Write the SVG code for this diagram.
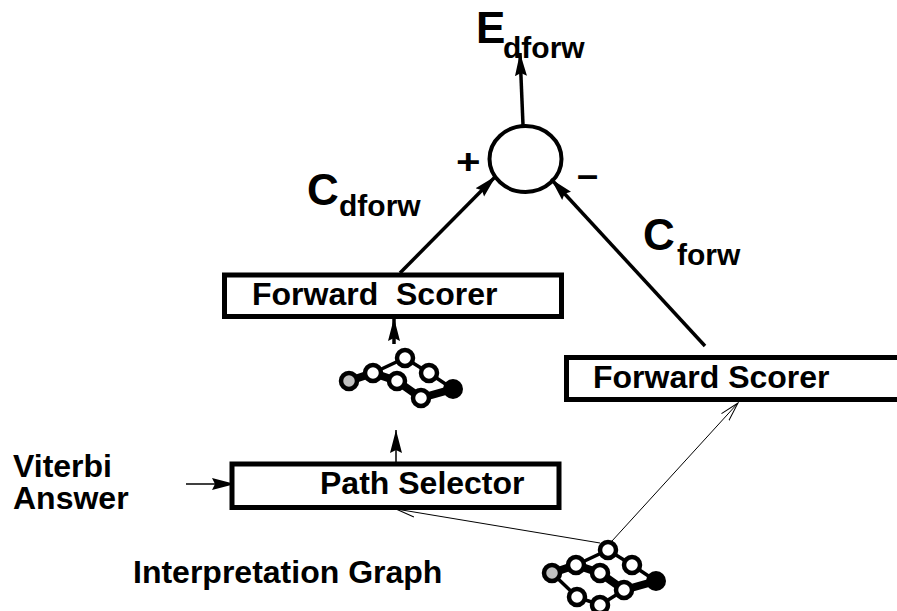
<svg xmlns="http://www.w3.org/2000/svg" width="897" height="611" viewBox="0 0 897 611">
<defs>
<marker id="ah" markerUnits="userSpaceOnUse" markerWidth="24" markerHeight="14" refX="23" refY="7" orient="auto"><path d="M0,1 L23,7 L0,13 L3,7 Z" fill="#000"/></marker>
<marker id="as" markerUnits="userSpaceOnUse" markerWidth="20" markerHeight="12" refX="19" refY="6" orient="auto"><path d="M0,1 L19,6 L0,11" fill="none" stroke="#000" stroke-width="1"/></marker>
<g id="graph">
<path class="thin" d="M24,-8 L56,-23 L80,-8 L104,8"/>
<path class="thick" d="M0,0 L24,-8 L48,0 L72,17 L104,8"/>
<circle cx="0" cy="0" r="8" fill="#c0c0c0" stroke="#000" stroke-width="4.500"/>
<circle class="n" cx="24" cy="-8" r="8"/>
<circle class="n" cx="56" cy="-23" r="8"/>
<circle class="n" cx="80" cy="-8" r="8"/>
<circle class="n" cx="48" cy="0" r="8"/>
<circle class="n" cx="72" cy="17" r="8"/>
<circle cx="104" cy="8" r="10" fill="#000"/>
</g>
</defs>
<style>
text{font-family:"Liberation Sans",Arial,sans-serif;font-weight:bold;fill:#000}
.box{fill:#fff;stroke:#000;stroke-width:5}
.n{fill:#fff;stroke:#000;stroke-width:4.500}
.thin{fill:none;stroke:#000;stroke-width:3.500}
.thick{fill:none;stroke:#000;stroke-width:8}
.c{fill:none;stroke:#000}
.l{font-size:32px}
.big{font-size:44px}
.sub{font-size:30px}
</style>
<g id="connectors">
<line class="c" stroke-width="3.500" x1="523" y1="125" x2="520" y2="53" marker-end="url(#ah)"/>
<line class="c" stroke-width="3.500" x1="400" y1="273" x2="496" y2="176" marker-end="url(#ah)"/>
<line class="c" stroke-width="3.500" x1="705" y1="346" x2="551" y2="179" marker-end="url(#ah)"/>
<line class="c" stroke-width="3.500" x1="394" y1="344" x2="394" y2="318" marker-end="url(#ah)"/>
<line class="c" stroke-width="1.500" x1="396" y1="462" x2="396" y2="430" marker-end="url(#ah)"/>
<line class="c" stroke-width="1.500" x1="186" y1="484" x2="235" y2="484" marker-end="url(#ah)"/>
<line class="c" stroke-width="1" x1="600" y1="543" x2="396" y2="509" marker-end="url(#as)"/>
<line class="c" stroke-width="1" x1="612" y1="541" x2="738" y2="403" marker-end="url(#as)"/>
</g>
<g id="sum"><ellipse cx="525.500" cy="159" rx="36" ry="33" fill="none" stroke="#000" stroke-width="4"/></g>
<g id="scorer1"><rect class="box" x="224.500" y="275" width="337" height="41.500"/><text class="l" x="252" y="305" xml:space="preserve">Forward  Scorer</text></g>
<g id="scorer2"><rect class="box" x="566.500" y="357.500" width="335" height="42"/><text class="l" x="593" y="388">Forward Scorer</text></g>
<g id="selector"><rect class="box" x="232" y="464" width="327" height="43.500"/><text class="l" x="320" y="494">Path Selector</text></g>
<g id="graph1"><use href="#graph" x="349" y="381"/></g>
<g id="graph2"><path class="thin" d="M552,573 L577,597 L600,605 L624,590"/><circle class="n" cx="577" cy="597" r="8"/><circle class="n" cx="600" cy="605" r="8"/><use href="#graph" x="552" y="573"/></g>
<g id="labels">
<text class="big" x="476" y="43">E</text><text class="sub" x="503" y="58">dforw</text>
<text class="big" x="307" y="205">C</text><text class="sub" x="339" y="216">dforw</text>
<text class="big" x="643" y="250">C</text><text class="sub" x="677" y="265">forw</text>
<text x="0" y="0" font-size="42" transform="translate(456 174) scale(1 .82)">+</text>
<text x="577" y="188" font-size="38">–</text>
<text class="l" x="13" y="477">Viterbi</text>
<text class="l" x="13" y="509">Answer</text>
<text class="l" x="133" y="583">Interpretation Graph</text>
</g>
</svg>
